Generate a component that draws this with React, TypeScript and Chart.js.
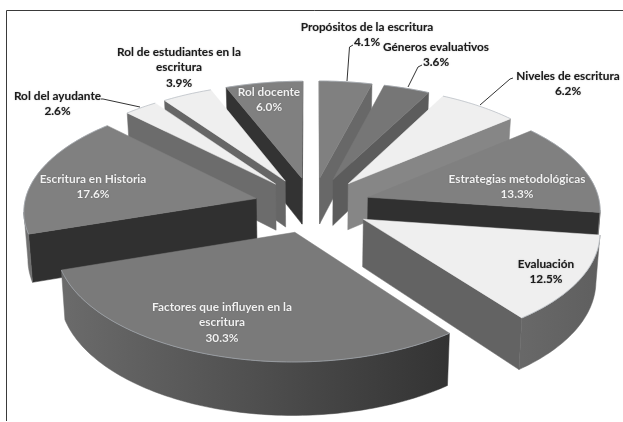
import React, { useEffect, useRef } from "react";
import { Chart, registerables } from "chart.js";

Chart.register(...registerables);

const categories = [
  "Propósitos de la escritura",
  "Géneros evaluativos",
  "Niveles de escritura",
  "Estrategias metodológicas",
  "Evaluación",
  "Factores que influyen en la escritura",
  "Escritura en Historia",
  "Rol del ayudante",
  "Rol de estudiantes en la escritura",
  "Rol docente",
];
const values = [4.1, 3.6, 6.2, 13.3, 12.5, 30.3, 17.6, 2.6, 3.9, 6.0];

const topColors = ["#808080", "#767676", "#efefef", "#808080", "#efefef", "#7a7a7a", "#808080", "#efefef", "#efefef", "#808080"];
const radialColors = ["#686868", "#5c5c5c", "#868686", "#303030", "#636363", "#333333", "#303030", "#6c6c6c", "#666666", "#333333"];
const outerColors = [
  ["#666666", "#666666"], ["#5c5c5c", "#5c5c5c"], ["#868686", "#868686"], ["#808080", "#808080"],
  ["#5f5f5f", "#686868"], ["#333333", "#6b6b6b"], ["#707070", "#707070"], ["#6c6c6c", "#6c6c6c"],
  ["#666666", "#666666"], ["#333333", "#333333"],
];

const labelLines = [
  ["Propósitos de la escritura", "4.1%"],
  ["Géneros evaluativos", "3.6%"],
  ["Niveles de escritura", "6.2%"],
  ["Estrategias metodológicas", "13.3%"],
  ["Evaluación", "12.5%"],
  ["Factores que influyen en la", "escritura", "30.3%"],
  ["Escritura en Historia", "17.6%"],
  ["Rol del ayudante", "2.6%"],
  ["Rol de estudiantes en la", "escritura", "3.9%"],
  ["Rol docente", "6.0%"],
];
const labelAnchors = [
  [367, 27], [436, 47], [568, 76], [517, 179], [546, 264],
  [222, 307], [93, 179], [57.5, 96], [179, 52], [269, 92],
];
const labelInk = ["#1c1c1c", "#1c1c1c", "#1c1c1c", "#f2f2f2", "#1c1c1c", "#f2f2f2", "#f2f2f2", "#1c1c1c", "#1c1c1c", "#f2f2f2"];
const leaderLines = [
  [[347, 81], [349.5, 47], [353, 45]],
  [[408, 87], [418, 67], [422, 65]],
  [[480, 105], [510, 79], [513, 78]],
  [[140, 107], [103, 99], [101, 99]],
];

const view = { x0: 312.5, y0: 205, tilt: 0.48, persp: 0.00042, depth: 47, radius: 232, taper: 0.014 };

function project(X: number, Y: number, h: number) {
  const s = 1 / (1 - view.persp * Y);
  return {
    x: view.x0 + X * s * (1 - h * view.taper),
    y: view.y0 + view.tilt * Y * s + h * view.depth * s,
  };
}

const pie3d = {
  id: "pie3d",
  beforeDraw(chart: any) {
    const ctx = chart.ctx;
    ctx.save();
    ctx.fillStyle = "#ffffff";
    ctx.fillRect(0, 0, chart.width, chart.height);
    ctx.strokeStyle = "#3a3a3a";
    ctx.lineWidth = 1;
    ctx.beginPath();
    ctx.moveTo(6.5, 421);
    ctx.lineTo(6.5, 10.5);
    ctx.lineTo(623, 10.5);
    ctx.stroke();
    ctx.restore();
  },
  beforeDatasetsDraw(chart: any) {
    const ctx = chart.ctx;
    const arcs = chart.getDatasetMeta(0).data;
    const order = arcs
      .map((a: any, i: number) => ({ i, key: Math.sin((a.startAngle + a.endAngle) / 2) }))
      .sort((p: any, q: any) => p.key - q.key);
    const fillPoly = (pts: any[], style: any) => {
      ctx.fillStyle = style;
      ctx.strokeStyle = style;
      ctx.lineWidth = 0.5;
      ctx.beginPath();
      pts.forEach((p, n) => (n ? ctx.lineTo(p.x, p.y) : ctx.moveTo(p.x, p.y)));
      ctx.closePath();
      ctx.fill();
      ctx.stroke();
    };
    for (const { i } of order) {
      const arc = arcs[i];
      const unit = view.radius / arc.outerRadius;
      const mid = (arc.startAngle + arc.endAngle) / 2;
      const off = (arc.options.offset || 0) * unit;
      const ax = off * Math.cos(mid);
      const ay = off * Math.sin(mid);
      const rim: { X: number; Y: number }[] = [];
      const steps = Math.max(6, Math.ceil((arc.endAngle - arc.startAngle) / 0.02));
      for (let k = 0; k <= steps; k++) {
        const t = arc.startAngle + ((arc.endAngle - arc.startAngle) * k) / steps;
        rim.push({ X: ax + view.radius * Math.cos(t), Y: ay + view.radius * Math.sin(t) });
      }
      const apexTop = project(ax, ay, 0);
      const apexBot = project(ax, ay, 1);
      const rimTop = rim.map((p) => project(p.X, p.Y, 0));
      const rimBot = rim.map((p) => project(p.X, p.Y, 1));
      const last = rim.length - 1;
      if (rimTop[0].x < apexTop.x) {
        fillPoly([apexTop, rimTop[0], rimBot[0], apexBot], radialColors[i]);
      }
      if (apexTop.x < rimTop[last].x) {
        fillPoly([rimTop[last], apexTop, apexBot, rimBot[last]], radialColors[i]);
      }
      let k = 0;
      while (k < last) {
        if (rimTop[k + 1].x < rimTop[k].x) {
          let e = k + 1;
          while (e < last && rimTop[e + 1].x < rimTop[e].x) e++;
          const top = rimTop.slice(k, e + 1);
          const bot = rimBot.slice(k, e + 1).reverse();
          const g = ctx.createLinearGradient(top[top.length - 1].x, 0, top[0].x, 0);
          g.addColorStop(0, outerColors[i][1]);
          g.addColorStop(1, outerColors[i][0]);
          fillPoly([...top, ...bot], g);
          k = e;
        } else k++;
      }
      fillPoly([apexTop, ...rimTop], topColors[i]);
      ctx.strokeStyle = "#a9b0b8";
      ctx.lineWidth = 0.6;
      ctx.beginPath();
      rimTop.forEach((p, n) => (n ? ctx.lineTo(p.x, p.y) : ctx.moveTo(p.x, p.y)));
      ctx.stroke();
    }
    return false;
  },
  afterDraw(chart: any) {
    const ctx = chart.ctx;
    ctx.save();
    ctx.strokeStyle = "#333333";
    ctx.lineWidth = 1;
    for (const line of leaderLines) {
      ctx.beginPath();
      line.forEach((p, n) => (n ? ctx.lineTo(p[0], p[1]) : ctx.moveTo(p[0], p[1])));
      ctx.stroke();
    }
    ctx.font = "bold 11.8px Lato";
    ctx.textAlign = "center";
    ctx.textBaseline = "middle";
    ctx.shadowColor = "rgba(0,0,0,0.35)";
    ctx.shadowBlur = 1.2;
    labelLines.forEach((lines, i) => {
      ctx.fillStyle = labelInk[i];
      lines.forEach((t, n) => ctx.fillText(t, labelAnchors[i][0], labelAnchors[i][1] + n * 15.5));
    });
    ctx.restore();
  },
};

export default function App() {
  const ref = useRef<HTMLCanvasElement | null>(null);
  useEffect(() => {
    const chart = new Chart(ref.current as HTMLCanvasElement, {
      type: "pie",
      data: {
        labels: categories,
        datasets: [{ data: values, backgroundColor: topColors, offset: 47, borderWidth: 0 }],
      },
      options: {
        animation: false,
        responsive: false,
        layout: { padding: 0 },
        plugins: { legend: { display: false }, tooltip: { enabled: false } },
      },
      plugins: [pie3d],
    } as any);
    return () => chart.destroy();
  }, []);
  return (
    <div style={{ position: "fixed", left: 0, top: 0, width: 623, height: 422 }}>
      <canvas ref={ref} width={623} height={422} style={{ display: "block" }} />
    </div>
  );
}
